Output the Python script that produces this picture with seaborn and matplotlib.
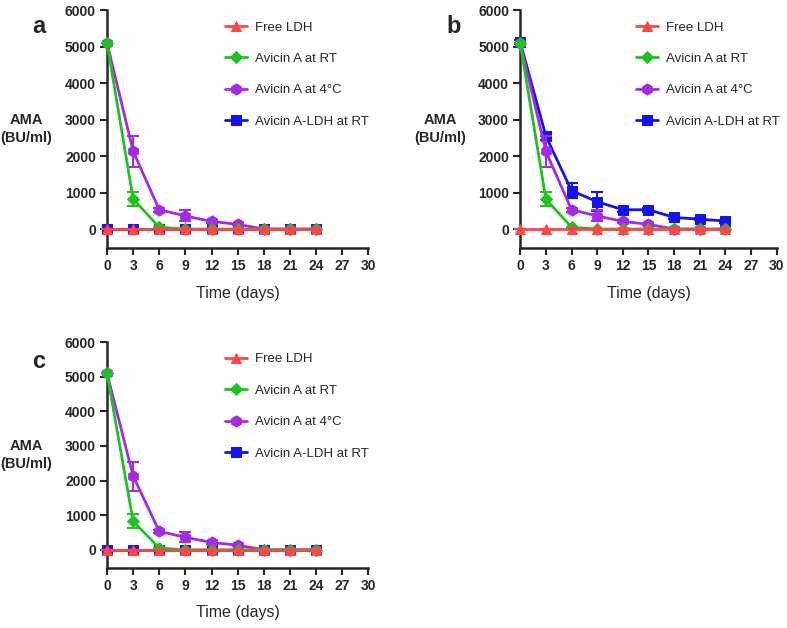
import matplotlib
matplotlib.use("Agg")
import numpy as np
import pandas as pd
import matplotlib.pyplot as plt
import seaborn as sns

# dados
days = [0, 3, 6, 9, 12, 15, 18, 21, 24]
free_ldh = [0, 0, 0, 0, 0, 0, 0, 0, 0]
free_ldh_err = [0, 0, 0, 0, 0, 0, 0, 0, 0]
avicin_rt = [5100, 820, 50, 0, 0, 0, 0, 0, 0]
avicin_rt_err = [0, 200, 0, 0, 0, 0, 0, 0, 0]
avicin_4c = [5100, 2130, 530, 360, 210, 130, 0, 0, 0]
avicin_4c_err = [0, 420, 50, 150, 30, 20, 0, 0, 0]
ldh_rt_zero = [0, 0, 0, 0, 0, 0, 0, 0, 0]
ldh_rt_zero_err = [0, 0, 0, 0, 0, 0, 0, 0, 0]
ldh_rt_b = [5120, 2550, 1050, 750, 530, 530, 320, 270, 220]
ldh_rt_b_err = [60, 110, 210, 260, 50, 50, 40, 30, 40]

labels = ["Free LDH", "Avicin A at RT", "Avicin A at 4\u00b0C", "Avicin A-LDH at RT"]
colors = ["#FF4545", "#1FC21F", "#A52BE0", "#1414F0"]
markers = ["^", "D", "h", "s"]
msizes = [7, 6, 8, 7]

sns.set_style("ticks")
plt.rcParams["font.family"] = ["Liberation Sans", "DejaVu Sans"]

fig = plt.figure(figsize=(7.87, 6.28), dpi=100)


def draw_panel(rect, ldh_vals, ldh_err, letter, lab_y):
    ax = fig.add_axes(rect)
    series = [(free_ldh, free_ldh_err), (avicin_rt, avicin_rt_err),
              (avicin_4c, avicin_4c_err), (ldh_vals, ldh_err)]
    # ordem de desenho: azul, roxo, verde, vermelho por cima
    for k in [3, 2, 1, 0]:
        vals, err = series[k]
        df = pd.DataFrame({"dia": days, "ama": vals})
        sns.lineplot(data=df, x="dia", y="ama", ax=ax, color=colors[k],
                     marker=markers[k], markersize=msizes[k], markeredgecolor=colors[k],
                     linewidth=2, errorbar=None, label=labels[k], zorder=3 + (3 - k),
                     clip_on=False)
        ax.errorbar(days, vals, yerr=err, fmt="none", ecolor=colors[k],
                    elinewidth=1.5, capsize=4, capthick=1.5, zorder=3 + (3 - k),
                    clip_on=False)

    ax.set_xlim(0, 30)
    ax.set_ylim(-520, 6000)
    ax.set_xticks(range(0, 31, 3))
    ax.set_yticks(range(0, 6001, 1000))
    for lab in ax.get_xticklabels() + ax.get_yticklabels():
        lab.set_fontweight("bold")
        lab.set_fontsize(10)
    ax.tick_params(axis="both", direction="out", length=5, width=1.5, pad=3)
    sns.despine(ax=ax)
    ax.spines["left"].set_linewidth(1.8)
    ax.spines["bottom"].set_linewidth(1.8)
    ax.set_xlabel("Time (days)", fontsize=11.5, labelpad=9)
    ax.set_ylabel("")

    h, l = ax.get_legend_handles_labels()
    order = [l.index(t) for t in labels]
    ax.legend([h[i] for i in order], [l[i] for i in order], loc="upper left",
              bbox_to_anchor=(0.43, 0.975), frameon=False, fontsize=9.5,
              handlelength=1.7, handletextpad=0.6, labelspacing=1.45,
              borderaxespad=0)

    ax.text(-0.31, 0.50, "AMA\n(BU/ml)", transform=ax.transAxes, ha="center",
            va="center", fontsize=10.5, fontweight="bold", linespacing=1.35)
    ax.text(-0.26, lab_y, letter, transform=ax.transAxes, ha="center",
            va="center", fontsize=17, fontweight="bold")
    return ax


draw_panel([0.136, 0.605, 0.332, 0.379], ldh_rt_zero, ldh_rt_zero_err, "a", 0.93)
draw_panel([0.661, 0.605, 0.326, 0.379], ldh_rt_b, ldh_rt_b_err, "b", 0.93)
draw_panel([0.136, 0.096, 0.332, 0.359], ldh_rt_zero, ldh_rt_zero_err, "c", 0.915)

fig.savefig("out.png", dpi=100)
